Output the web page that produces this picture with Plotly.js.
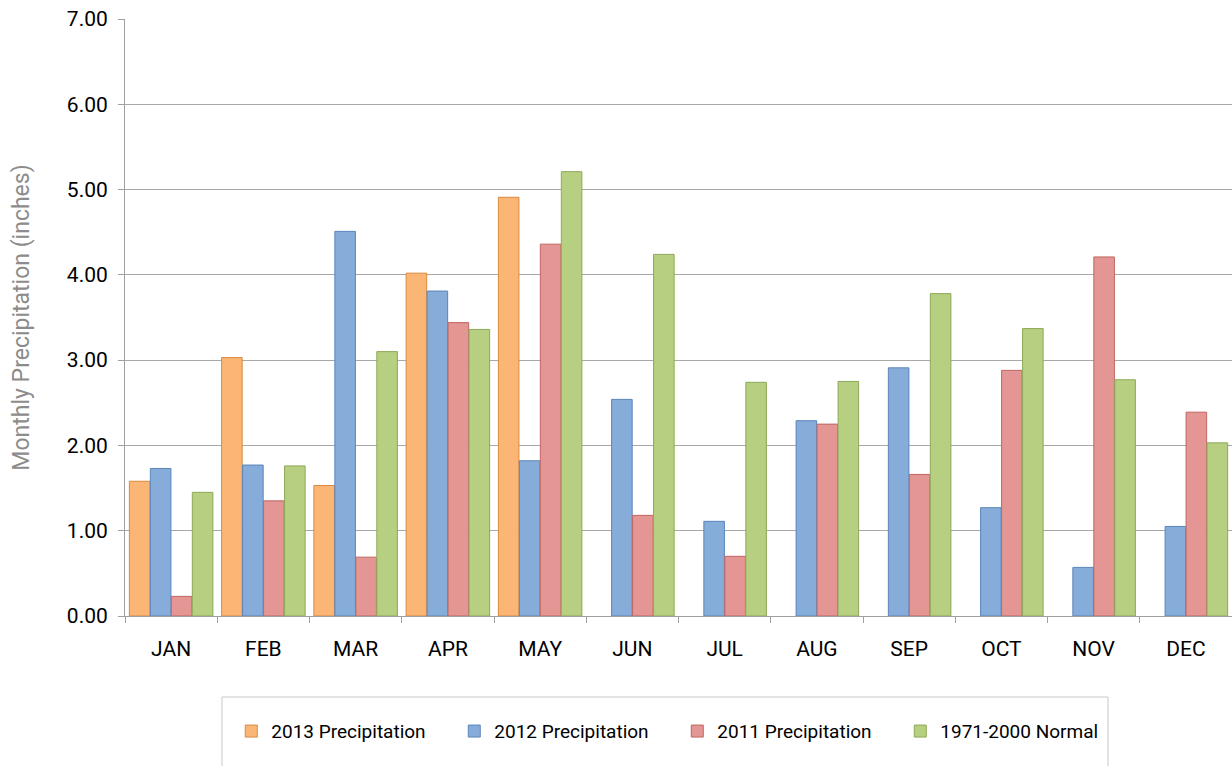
<!DOCTYPE html>
<html><head><meta charset="utf-8">
<script src="https://cdn.plot.ly/plotly-3.0.1.min.js"></script>
<style>html,body{margin:0;padding:0;background:#fff;overflow:hidden}</style>
</head><body><div id="chart" style="width:1232px;height:766px"></div>
<script>
const months = ["JAN","FEB","MAR","APR","MAY","JUN","JUL","AUG","SEP","OCT","NOV","DEC"];
const precip2013 = [1.58, 3.03, 1.53, 4.02, 4.91, null, null, null, null, null, null, null];
const precip2012 = [1.73, 1.77, 4.51, 3.81, 1.82, 2.54, 1.11, 2.29, 2.91, 1.27, 0.57, 1.05];
const precip2011 = [0.23, 1.35, 0.69, 3.44, 4.36, 1.18, 0.70, 2.25, 1.66, 2.88, 4.21, 2.39];
const normal19712000 = [1.45, 1.76, 3.10, 3.36, 5.21, 4.24, 2.74, 2.75, 3.78, 3.37, 2.77, 2.03];
const seriesNames = ["2013 Precipitation","2012 Precipitation","2011 Precipitation","1971-2000 Normal"];
const yTicks = [0,1,2,3,4,5,6,7];

const FONT = "Roboto, 'Liberation Sans', sans-serif";
const fills = ["#fbb676","#86acd9","#e39693","#b6cf80"];
const edges = ["#d88a3e","#5a85bb","#c06561","#8ea858"];
const data = [precip2013, precip2012, precip2011, normal19712000].map((v,i)=>({
  type:"bar", x:months, y:v, name:seriesNames[i],
  marker:{color:fills[i], line:{color:edges[i], width:1}},
  hoverinfo:"y"
}));

const layout = {
  width:1232, height:766,
  margin:{l:125, r:0, t:19, b:150},
  paper_bgcolor:"#ffffff", plot_bgcolor:"#ffffff",
  font:{family:FONT, color:"#000"},
  barmode:"group", bargap:0.09, bargroupgap:0.02,
  showlegend:true,
  xaxis:{
    type:"category", tickson:"boundaries", ticks:"outside", ticklen:6, tickcolor:"#a0a0a0",
    showline:true, linecolor:"#a0a0a0", linewidth:1, automargin:false,
    showgrid:false, tickfont:{size:21, family:FONT, color:"#000"},
    ticklabelstandoff:14, fixedrange:true
  },
  yaxis:{
    range:[0,7], tickvals:yTicks, ticktext:yTicks.map(v=>v.toFixed(2)),
    ticks:"outside", ticklen:6, tickcolor:"#a0a0a0", automargin:false,
    showline:true, linecolor:"#a0a0a0", linewidth:1,
    showgrid:true, gridcolor:"#a8a8a8", gridwidth:1, zeroline:false,
    tickfont:{size:21, family:FONT, color:"#000"},
    ticklabelstandoff:6,
    title:{text:"Monthly Precipitation (inches)", font:{size:23, family:FONT, color:"#8c8c8c"}, standoff:30},
    fixedrange:true
  },
  legend:{
    orientation:"h", x:0.096, xanchor:"left", y:-0.193, yanchor:"middle",
    font:{size:19, family:FONT, color:"#000"},
    entrywidth:178, entrywidthmode:"pixels",
    bgcolor:"rgba(0,0,0,0)", borderwidth:0
  },
  shapes:[{
    type:"rect", xref:"paper", yref:"paper",
    x0:0.0876, x1:0.888, y0:-0.265, y1:-0.1357,
    line:{color:"#c8c8c8", width:1}, fillcolor:"rgba(0,0,0,0)", layer:"below"
  }]
};
Plotly.newPlot("chart", data, layout, {displayModeBar:false, staticPlot:true});
</script></body></html>
